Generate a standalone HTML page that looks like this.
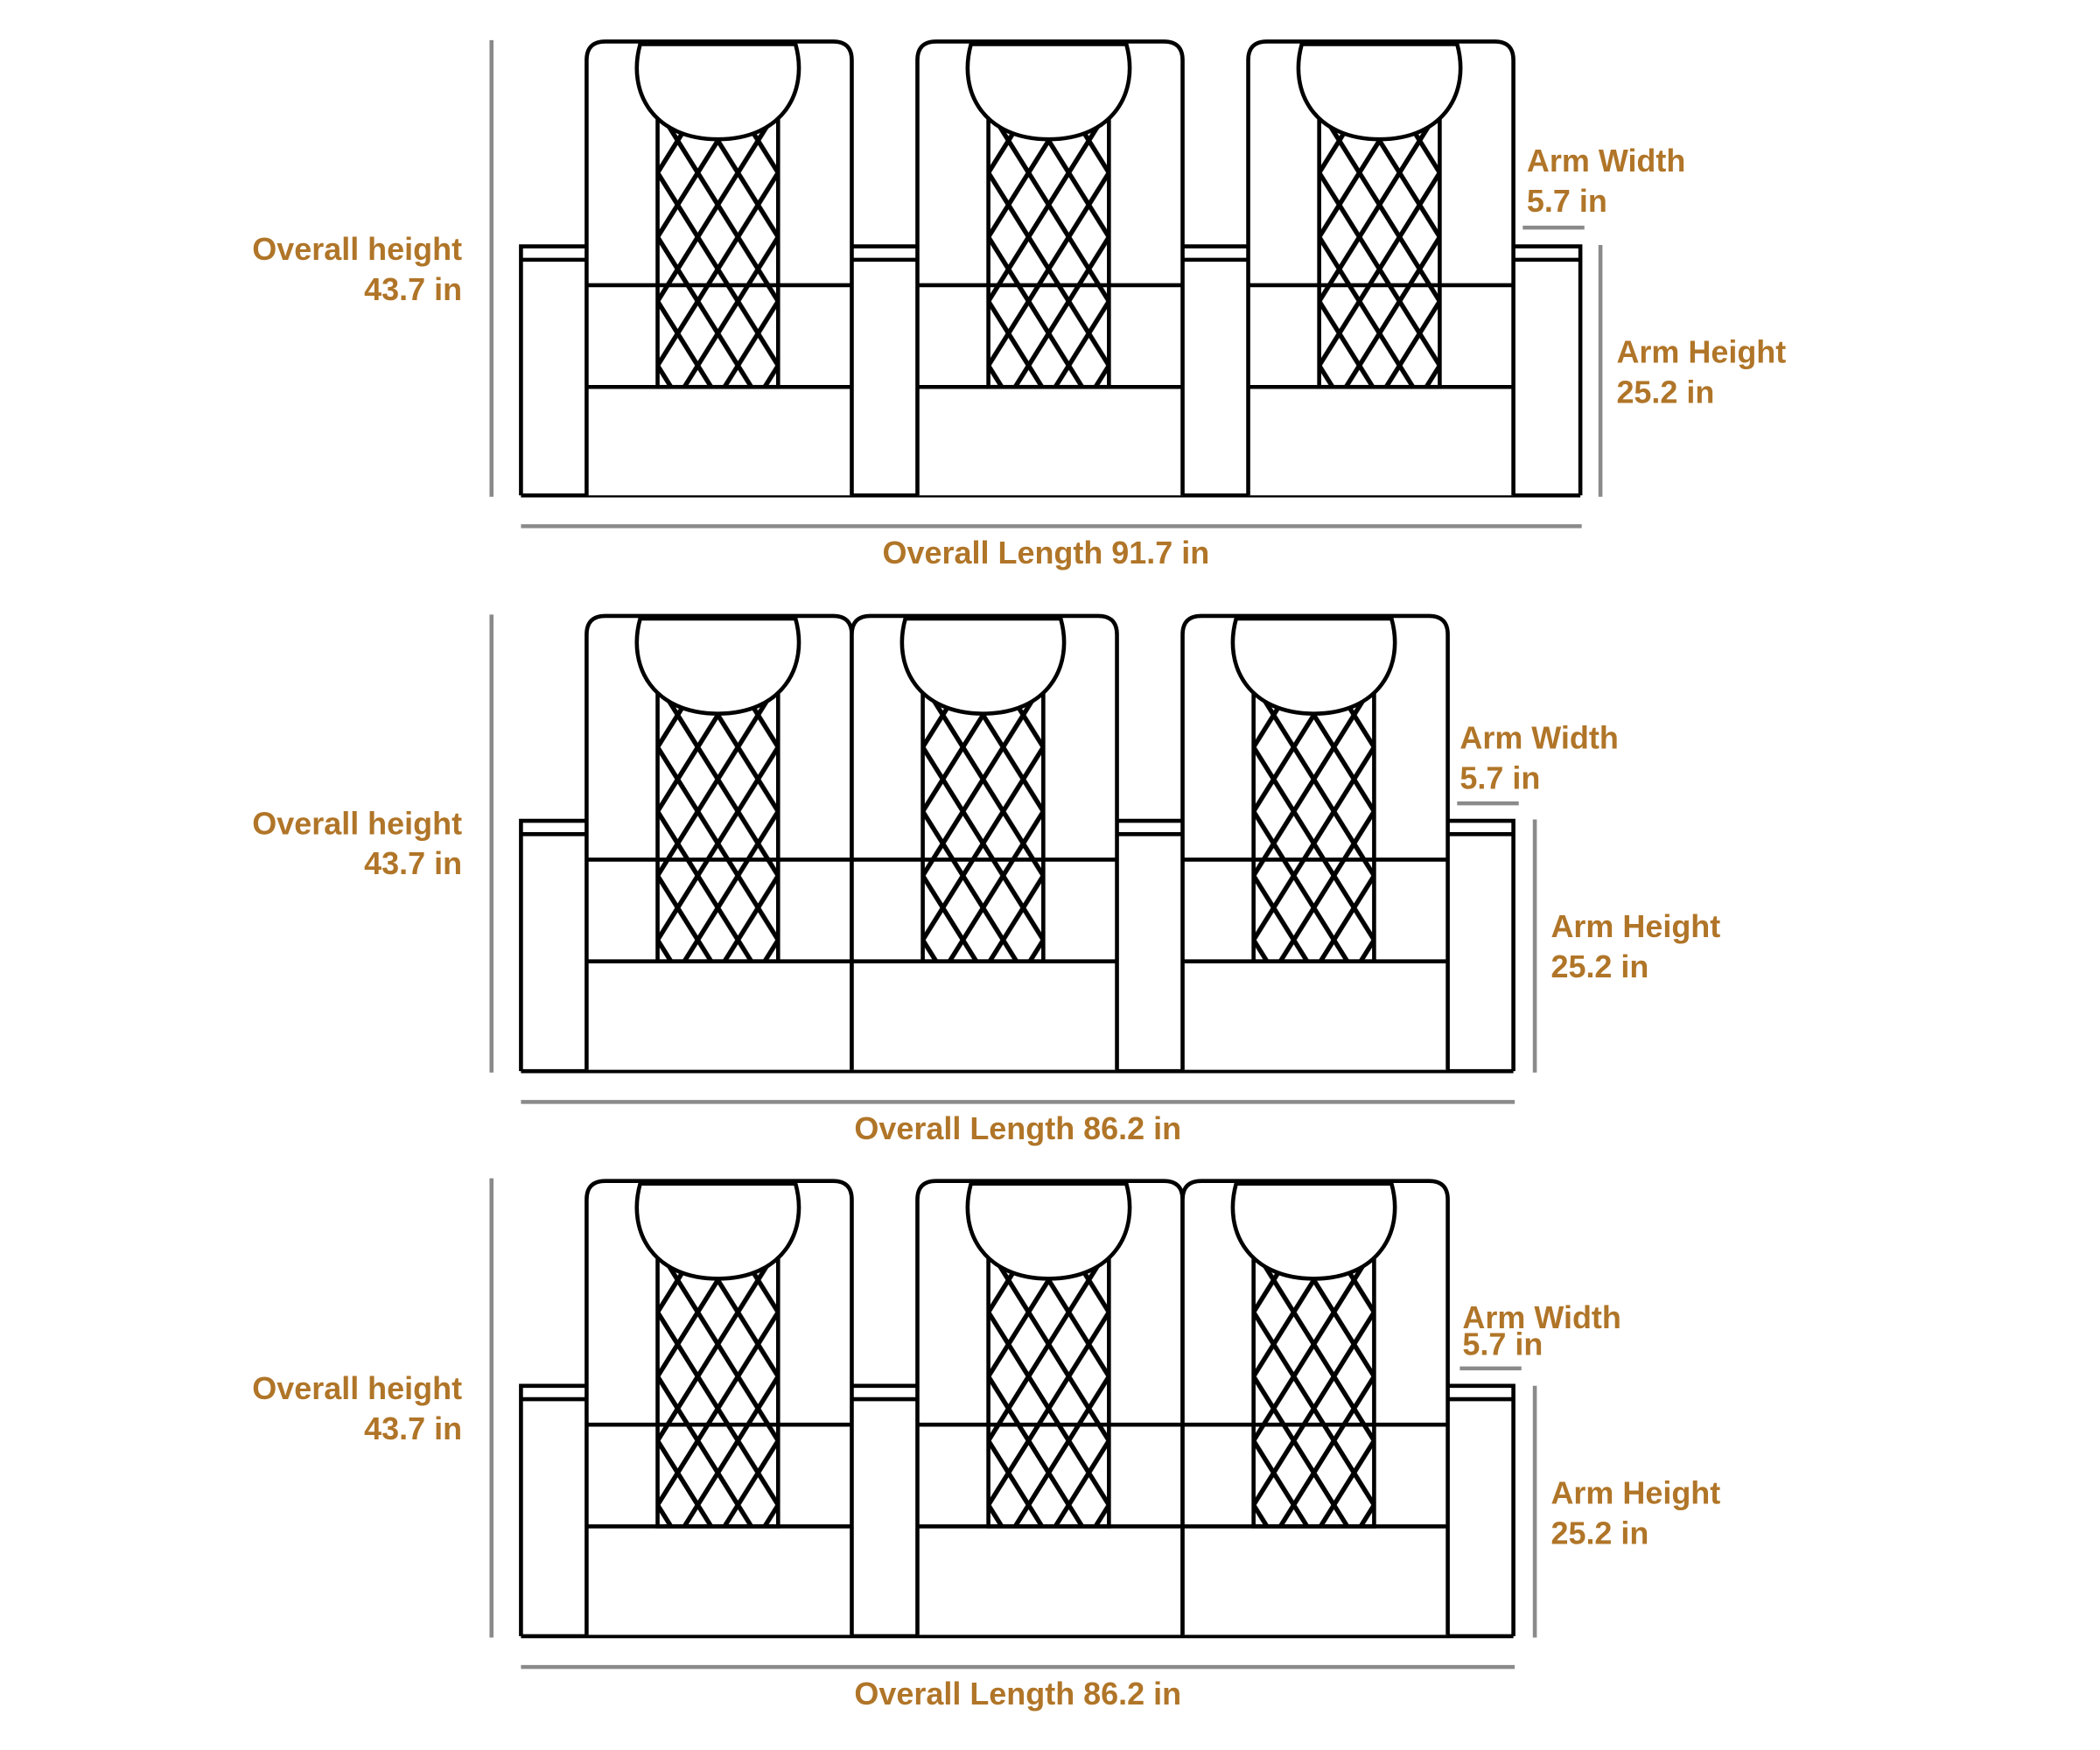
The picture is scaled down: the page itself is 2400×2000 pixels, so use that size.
<!DOCTYPE html>
<html><head><meta charset="utf-8"><style>
html,body{margin:0;padding:0;background:#fff;}
svg{display:block;}
text{font-family:"Liberation Sans",sans-serif;font-weight:bold;font-size:23.5px;fill:#b07528;}
</style></head><body>
<svg width="2400" height="2000" viewBox="0 0 1568 1307" preserveAspectRatio="none" xmlns="http://www.w3.org/2000/svg">
<defs>
<pattern id="lat" patternUnits="userSpaceOnUse" x="53" y="50" width="30" height="48">
<g stroke="#000" stroke-width="3.5">
<line x1="0" y1="0" x2="30" y2="48"/>
<line x1="30" y1="0" x2="0" y2="48"/>
<line x1="-30" y1="0" x2="0" y2="48"/>
<line x1="30" y1="0" x2="60" y2="48"/>
<line x1="0" y1="0" x2="-30" y2="48"/>
<line x1="60" y1="0" x2="30" y2="48"/>
</g>
</pattern>
<g id="chair" fill="none" stroke="#000" stroke-width="3">
<path d="M0,339 V14 Q0,0 14,0 H184 Q198,0 198,14 V339" fill="#fff"/>
<rect x="53" y="50" width="90" height="208" fill="url(#lat)"/>
<line x1="0" y1="182" x2="198" y2="182"/>
<line x1="0" y1="258" x2="198" y2="258"/>
<path d="M40,2 C30,38 50,73 98,73 C146,73 166,38 156,2 Z" fill="#fff"/>
</g>
</defs>

<!-- Section 1 -->
<g fill="none" stroke="#000" stroke-width="3">
<path d="M389,370 V184 H438 M389,194 H438 M636,184 H685 M636,194 H685 M883,184 H932 M883,194 H932 M1130,184 H1180 V370 M1130,194 H1180 M389,370 H1180"/>
</g>
<use href="#chair" x="438" y="31"/>
<use href="#chair" x="685" y="31"/>
<use href="#chair" x="932" y="31"/>
<g stroke="#8a8a8a" stroke-width="3">
<line x1="367" y1="30" x2="367" y2="371"/>
<line x1="389" y1="393" x2="1181" y2="393"/>
<line x1="1137" y1="170" x2="1183" y2="170"/>
<line x1="1195" y1="183" x2="1195" y2="371"/>
</g>
<text x="345" y="194" text-anchor="end">Overall height</text>
<text x="345" y="224" text-anchor="end">43.7 in</text>
<text x="781" y="421" text-anchor="middle">Overall Length 91.7 in</text>
<text x="1140" y="128">Arm Width</text>
<text x="1140" y="158">5.7 in</text>
<text x="1207" y="271">Arm Height</text>
<text x="1207" y="301">25.2 in</text>

<!-- Section 2 -->
<g fill="none" stroke="#000" stroke-width="3">
<path d="M389,800 V613 H438 M389,623 H438 M834,613 H883 M834,623 H883 M1081,613 H1130 V800 M1081,623 H1130 M389,800 H1130"/>
</g>
<use href="#chair" x="438" y="460"/>
<use href="#chair" x="636" y="460"/>
<use href="#chair" x="883" y="460"/>
<g stroke="#8a8a8a" stroke-width="3">
<line x1="367" y1="459" x2="367" y2="801"/>
<line x1="389" y1="823" x2="1131" y2="823"/>
<line x1="1088" y1="600" x2="1134" y2="600"/>
<line x1="1146" y1="612" x2="1146" y2="801"/>
</g>
<text x="345" y="623" text-anchor="end">Overall height</text>
<text x="345" y="653" text-anchor="end">43.7 in</text>
<text x="760" y="851" text-anchor="middle">Overall Length 86.2 in</text>
<text x="1090" y="559">Arm Width</text>
<text x="1090" y="589">5.7 in</text>
<text x="1158" y="700">Arm Height</text>
<text x="1158" y="730">25.2 in</text>

<!-- Section 3 -->
<g fill="none" stroke="#000" stroke-width="3">
<path d="M389,1222 V1035 H438 M389,1045 H438 M636,1035 H685 M636,1045 H685 M1081,1035 H1130 V1222 M1081,1045 H1130 M389,1222 H1130"/>
</g>
<use href="#chair" x="438" y="882"/>
<use href="#chair" x="685" y="882"/>
<use href="#chair" x="883" y="882"/>
<g stroke="#8a8a8a" stroke-width="3">
<line x1="367" y1="880" x2="367" y2="1223"/>
<line x1="389" y1="1245" x2="1131" y2="1245"/>
<line x1="1090" y1="1022" x2="1136" y2="1022"/>
<line x1="1146" y1="1035" x2="1146" y2="1223"/>
</g>
<text x="345" y="1045" text-anchor="end">Overall height</text>
<text x="345" y="1075" text-anchor="end">43.7 in</text>
<text x="760" y="1273" text-anchor="middle">Overall Length 86.2 in</text>
<text x="1092" y="992">Arm Width</text>
<text x="1092" y="1012">5.7 in</text>
<text x="1158" y="1123">Arm Height</text>
<text x="1158" y="1153">25.2 in</text>
</svg>
</body></html>
